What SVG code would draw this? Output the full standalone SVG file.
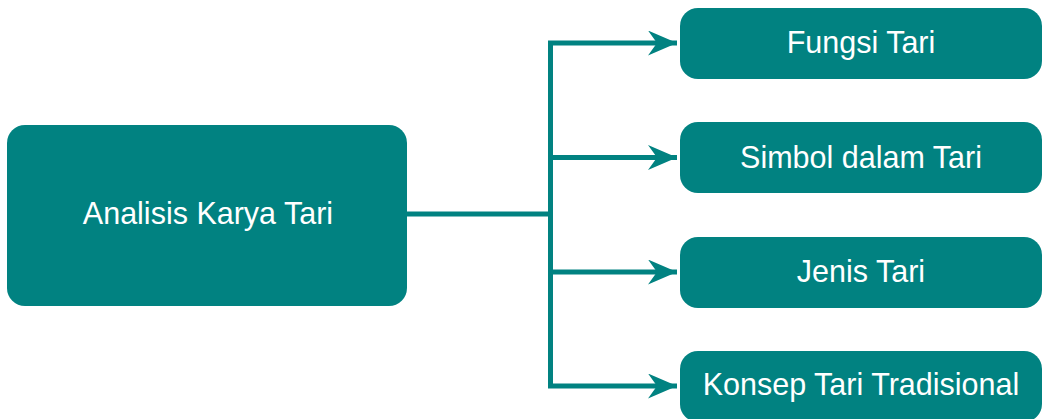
<svg xmlns="http://www.w3.org/2000/svg" width="1042" height="419" viewBox="0 0 1042 419">
<defs>
<style>
.box{fill:#018281;}
.lbl{fill:#ffffff;font-family:"Liberation Sans",Arial,sans-serif;font-size:30.5px;text-anchor:middle;dominant-baseline:central;}
.conn{fill:none;stroke:#018281;stroke-width:5;stroke-linejoin:miter;}
.head{fill:#018281;}
</style>
<marker id="arr" markerUnits="userSpaceOnUse" markerWidth="32" markerHeight="27" refX="29" refY="12.5" orient="auto">
<path class="head" d="M0,0 L29,12.5 L0,25 L9,12.5 Z"/>
</marker>
</defs>
<rect width="1042" height="419" fill="#ffffff"/>
<g id="connectors">
<path class="conn" d="M407,214 H550.5"/>
<path class="conn" d="M550.5,386 V43"/>
<path class="conn" d="M548,43 H677" marker-end="url(#arr)"/>
<path class="conn" d="M550.5,157.5 H677" marker-end="url(#arr)"/>
<path class="conn" d="M550.5,272 H677" marker-end="url(#arr)"/>
<path class="conn" d="M548,386 H677" marker-end="url(#arr)"/>
</g>
<g id="node-main">
<rect class="box" x="7" y="125" width="400" height="181" rx="18"/>
<text class="lbl" x="208" y="213">Analisis Karya Tari</text>
</g>
<g id="node-fungsi">
<rect class="box" x="680" y="8" width="362" height="71" rx="18"/>
<text class="lbl" x="861" y="42">Fungsi Tari</text>
</g>
<g id="node-simbol">
<rect class="box" x="680" y="122" width="362" height="71" rx="18"/>
<text class="lbl" x="861" y="157">Simbol dalam Tari</text>
</g>
<g id="node-jenis">
<rect class="box" x="680" y="237" width="362" height="71" rx="18"/>
<text class="lbl" x="861" y="271">Jenis Tari</text>
</g>
<g id="node-konsep">
<rect class="box" x="680" y="351" width="362" height="71" rx="18"/>
<text class="lbl" x="861" y="384">Konsep Tari Tradisional</text>
</g>
</svg>
